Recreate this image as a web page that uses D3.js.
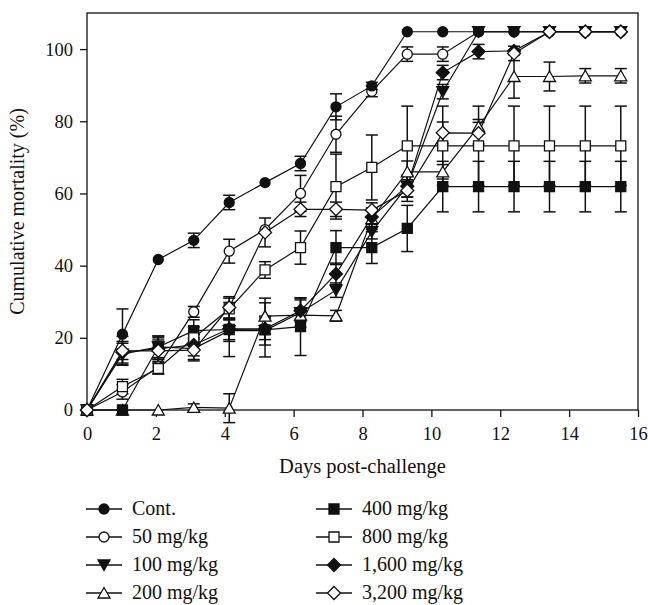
<!DOCTYPE html>
<html>
<head>
<meta charset="utf-8">
<script src="https://cdn.jsdelivr.net/npm/d3@7"></script>
<style>
  body { margin: 0; background: #fff; }
  svg { display: block; }
</style>
</head>
<body>
<div id="viz"></div>
<script>
// days post-challenge (sampling points)
const days = [0, 1.03, 2.07, 3.1, 4.13, 5.17, 6.2, 7.23, 8.27, 9.3, 10.33, 11.37, 12.4, 13.43, 14.47, 15.5];

// cumulative mortality (%) per group
const cont   = [0, 21, 41.7, 47, 57.5, 63, 68.3, 84, 89.8, 104.8, 104.8, 104.8, 104.8, 104.8, 104.8, 104.8];
const mg50   = [0, 5, 12, 27.2, 44, 50, 60, 76.4, 88.3, 98.6, 98.6, 104.8, 104.8, 104.8, 104.8, 104.8];
const mg100  = [0, 15.5, 17.5, 17, 22, 22, 27, 33.2, 49.4, 62, 88.2, 104.8, 104.8, 104.8, 104.8, 104.8];
const mg200  = [0, 0, 0, 0.7, 0.5, 26, 26.3, 26.1, 53, 66, 66, 78.5, 92.4, 92.4, 92.6, 92.6];
const mg400  = [0, 0, 17.5, 22, 22.3, 22.2, 23.1, 45, 45, 50.3, 61.9, 61.9, 61.9, 61.9, 61.9, 61.9];
const mg800  = [0, 6.5, 11.5, 20, 28, 38.8, 45, 61.9, 67.2, 73.2, 73.2, 73.2, 73.2, 73.2, 73.2, 73.2];
const mg1600 = [0, 16, 17, 18, 22.5, 22.5, 27.5, 37.7, 53.5, 62, 93.5, 99.3, 99.5, 104.8, 104.8, 104.8];
const mg3200 = [0, 16.4, 16.4, 16.6, 28.4, 49.2, 55.6, 55.6, 55.4, 60.8, 76.8, 76.7, 98.8, 104.8, 104.8, 104.8];

// error (± SE) per group
const errCont = [0, 7, 0, 2, 2, 0, 2, 3.6, 1, 0, 0, 0, 0, 0, 0, 0];
const err50   = [0, 2, 2, 1.5, 3.3, 0, 5, 5, 1.5, 2, 2, 0, 0, 0, 0, 0];
const err100  = [0, 3, 3, 3, 3, 4, 4, 2, 2, 3, 2, 0, 0, 0, 0, 0];
const err200  = [0, 0, 0, 1, 4, 5, 1.5, 1.5, 3, 3, 2, 2, 6, 4, 2, 2];
const err400  = [0, 0, 3, 3, 7.5, 7.5, 8, 4.7, 4.4, 6.4, 7, 7, 7, 7, 7, 7];
const err800  = [0, 2, 1.5, 3, 3, 2.3, 4.6, 9, 9, 11, 11, 11, 11, 11, 11, 11];
const err1600 = [0, 3, 3, 3, 3, 3, 3, 3, 2, 3, 2, 2, 0, 0, 0, 0];
const err3200 = [0, 4, 3, 3, 3, 4, 2, 2, 2, 3, 3, 3, 2, 0, 0, 0];

const xTicks = [0, 2, 4, 6, 8, 10, 12, 14, 16];
const yTicks = [0, 20, 40, 60, 80, 100];

const groups = [
  { name: "Cont.",       values: cont,   err: errCont, shape: "circle",   fill: true },
  { name: "50 mg/kg",    values: mg50,   err: err50,   shape: "circle",   fill: false },
  { name: "100 mg/kg",   values: mg100,  err: err100,  shape: "down",     fill: true },
  { name: "200 mg/kg",   values: mg200,  err: err200,  shape: "up",       fill: false },
  { name: "400 mg/kg",   values: mg400,  err: err400,  shape: "square",   fill: true },
  { name: "800 mg/kg",   values: mg800,  err: err800,  shape: "square",   fill: false },
  { name: "1,600 mg/kg", values: mg1600, err: err1600, shape: "diamond",  fill: true },
  { name: "3,200 mg/kg", values: mg3200, err: err3200, shape: "diamond",  fill: false }
];

// drawing order: control drawn late so it sits on top, 3,200 last
const drawOrder = [1, 2, 3, 4, 5, 6, 0, 7];

const width = 648, height = 605;
const margin = { top: 13, right: 10, bottom: 195, left: 87 };
const ink = "#111";
const fontFamily = "'Liberation Serif', 'DejaVu Serif', serif";

const svg = d3.select("#viz").append("svg")
  .attr("width", width)
  .attr("height", height)
  .style("font-family", fontFamily);

const x = d3.scaleLinear().domain([0, 16]).range([margin.left, 638]);
const y = d3.scaleLinear().domain([0, 110]).range([410, margin.top]);

function symbolPath(shape) {
  switch (shape) {
    case "circle": return "M5,0A5,5 0 1,1 -5,0A5,5 0 1,1 5,0Z";
    case "square": return "M-5,-5H5V5H-5Z";
    case "up": return "M0,-5.5L6,5H-6Z";
    case "down": return "M0,5.5L6,-5H-6Z";
    case "diamond": return "M0,-6.5L6.5,0L0,6.5L-6.5,0Z";
  }
}

// frame
svg.append("rect")
  .attr("x", x(0)).attr("y", y(110))
  .attr("width", x(16) - x(0)).attr("height", y(0) - y(110))
  .attr("fill", "none").attr("stroke", ink).attr("stroke-width", 1.3);

// axes
const xAxisG = svg.append("g")
  .attr("transform", `translate(0,${y(0)})`)
  .call(d3.axisBottom(x).tickValues(xTicks).tickSize(7).tickPadding(10));
const yAxisG = svg.append("g")
  .attr("transform", `translate(${x(0)},0)`)
  .call(d3.axisLeft(y).tickValues(yTicks).tickSize(7).tickPadding(7));

svg.selectAll(".domain").remove();
svg.selectAll(".tick line").attr("stroke", ink).attr("stroke-width", 1.3);
svg.selectAll(".tick text")
  .attr("fill", ink)
  .style("font-family", fontFamily)
  .style("font-size", "18.5px");

svg.append("text")
  .attr("x", (x(0) + x(16)) / 2)
  .attr("y", 473)
  .attr("text-anchor", "middle")
  .attr("fill", ink)
  .style("font-size", "20.5px")
  .text("Days post-challenge");

svg.append("text")
  .attr("transform", `translate(24,${(y(0) + y(110)) / 2}) rotate(-90)`)
  .attr("text-anchor", "middle")
  .attr("fill", ink)
  .style("font-size", "20px")
  .text("Cumulative mortality (%)");

const line = d3.line()
  .x((d, i) => x(days[i]))
  .y(d => y(d));

const body = svg.append("g");

// lines
drawOrder.forEach(gi => {
  const g = groups[gi];
  body.append("path")
    .attr("d", line(g.values))
    .attr("fill", "none")
    .attr("stroke", ink)
    .attr("stroke-width", 1.2);
});

// error bars
drawOrder.forEach(gi => {
  const g = groups[gi];
  const pts = g.values.map((v, i) => ({ x: days[i], v, e: g.err[i] })).filter(d => d.e > 0);
  const eg = body.append("g").attr("stroke", ink).attr("stroke-width", 1.5);
  eg.selectAll("line.v").data(pts).join("line")
    .attr("x1", d => x(d.x)).attr("x2", d => x(d.x))
    .attr("y1", d => y(d.v - d.e)).attr("y2", d => y(d.v + d.e));
  eg.selectAll("line.t").data(pts).join("line")
    .attr("x1", d => x(d.x) - 6).attr("x2", d => x(d.x) + 6)
    .attr("y1", d => y(d.v + d.e)).attr("y2", d => y(d.v + d.e));
  eg.selectAll("line.b").data(pts).join("line")
    .attr("x1", d => x(d.x) - 6).attr("x2", d => x(d.x) + 6)
    .attr("y1", d => y(d.v - d.e)).attr("y2", d => y(d.v - d.e));
});

// markers
drawOrder.forEach(gi => {
  const g = groups[gi];
  body.append("g").selectAll("path")
    .data(g.values)
    .join("path")
    .attr("transform", (d, i) => `translate(${x(days[i])},${y(d)})`)
    .attr("d", symbolPath(g.shape))
    .attr("fill", g.fill ? ink : "#fff")
    .attr("stroke", ink)
    .attr("stroke-width", 1.3);
});

// legend
const legend = svg.append("g");
groups.forEach((g, i) => {
  const col = Math.floor(i / 4), row = i % 4;
  const cx = col === 0 ? 104 : 334;
  const cy = 509 + row * 28;
  const item = legend.append("g");
  item.append("line")
    .attr("x1", cx - 18).attr("x2", cx + 18)
    .attr("y1", cy).attr("y2", cy)
    .attr("stroke", ink).attr("stroke-width", 1.3);
  item.append("path")
    .attr("transform", `translate(${cx},${cy})`)
    .attr("d", symbolPath(g.shape))
    .attr("fill", g.fill ? ink : "#fff")
    .attr("stroke", ink)
    .attr("stroke-width", 1.3);
  item.append("text")
    .attr("x", cx + 28)
    .attr("y", cy + 6)
    .attr("fill", ink)
    .style("font-size", "20px")
    .text(g.name);
});
</script>
</body>
</html>
